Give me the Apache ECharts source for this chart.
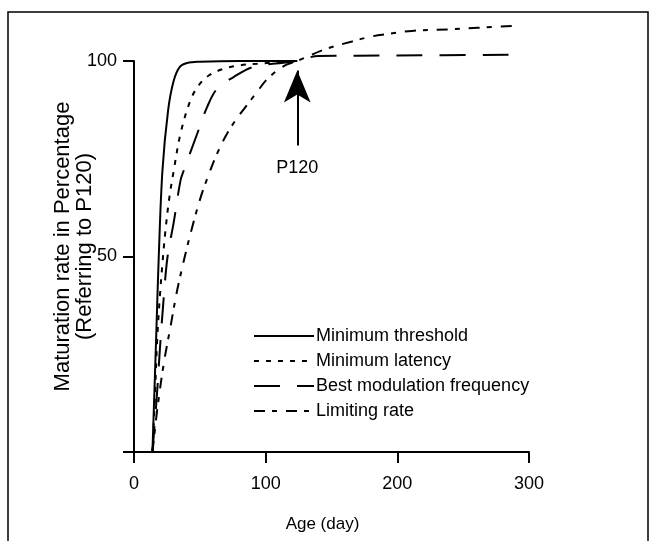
<!DOCTYPE html>
<html>
<head>
<meta charset="utf-8">
<script src="https://cdn.jsdelivr.net/npm/echarts@6/dist/echarts.min.js"></script>
<style>
html,body{margin:0;padding:0;background:#fff;}
#chart{width:656px;height:541px;}
</style>
</head>
<body>
<div id="chart"></div>
<script>
// ---- data ----
var seriesNames = ['Minimum threshold', 'Minimum latency', 'Best modulation frequency', 'Limiting rate'];

var thresholdX = [14, 17, 18.8, 21.6, 25.9, 30.2, 34.8, 40.4, 50, 80, 124];
var thresholdY = [0, 31, 50, 72, 87.4, 95, 98.5, 99.5, 99.8, 100, 100];

var latencyX = [14, 16, 17.5, 19.6, 21.6, 23.9, 26.9, 30.2, 35.3, 42.9, 49.2, 56.8, 68.1, 80.8, 93.5, 124];
var latencyY = [0, 15, 28, 39.6, 48.2, 56.7, 65.2, 72, 81.4, 90, 93.8, 96.3, 98, 98.9, 99.3, 100];

var bmfX = [14, 17.5, 19.6, 22.6, 25.5, 30.2, 35.3, 37.8, 48, 55.5, 63.1, 75.7, 90.9, 124, 140, 200, 290];
var bmfY = [0, 15, 26, 39.6, 50, 58.8, 69.4, 72, 81.4, 88.2, 92.9, 95.9, 98.5, 100, 101.3, 101.4, 101.6];

var limitX = [14, 15, 17.6, 22.6, 27.7, 32.8, 39.1, 44.2, 50.5, 56.8, 63.1, 70, 77, 84.6, 93.5, 101, 113.7, 124, 145, 165.6, 180.7, 195, 211, 240, 261, 290];
var limitY = [0, 3, 10.7, 22.6, 32, 41.4, 50.7, 57.5, 65, 71, 76.3, 81, 84.8, 88.2, 92.1, 95.3, 98.7, 100, 103, 105, 106.3, 107, 107.7, 108.1, 108.5, 109];

var xTicks = [0, 100, 200, 300];
var yTicks = [0, 50, 100];

var arrowX = 124, arrowFromY = 78.4, arrowToY = 97.6, arrowLabel = 'P120';

function pairs(xs, ys) { return xs.map(function (x, i) { return [x, ys[i]]; }); }

var FONT = '"Liberation Sans", Arial, Helvetica, sans-serif';

var chart = echarts.init(document.getElementById('chart'), null, {renderer: 'canvas'});

function lineSeries(name, xs, ys, dash, extra) {
  var s = {
    name: name,
    type: 'line',
    data: pairs(xs, ys),
    showSymbol: false,
    symbol: 'none',
    smooth: 0.35,
    clip: false,
    lineStyle: {color: '#000', width: 2, type: dash, cap: 'butt'},
    itemStyle: {color: '#000'},
    animation: false,
    z: 3
  };
  if (extra) { for (var k in extra) s[k] = extra[k]; }
  return s;
}

var option = {
  animation: false,
  backgroundColor: '#fff',
  textStyle: {fontFamily: FONT},
  graphic: [{
    type: 'rect',
    shape: {x: 8, y: 12, width: 640, height: 560},
    style: {fill: 'none', stroke: '#000', lineWidth: 1.5},
    silent: true
  }],
  grid: {left: 134, right: 127, top: 61, bottom: 89, containLabel: false},
  legend: {
    orient: 'vertical',
    left: 253,
    top: 326,
    padding: 0,
    itemWidth: 60,
    itemHeight: 14,
    itemGap: 5,
    data: seriesNames,
    itemStyle: {color: 'rgba(0,0,0,0)', borderColor: 'rgba(0,0,0,0)', borderWidth: 0, opacity: 0},
    textStyle: {fontSize: 18, color: '#000', fontFamily: FONT, lineHeight: 20, padding: [0, 0, 0, -3]},
    inactiveColor: '#000'
  },
  xAxis: {
    type: 'value',
    min: xTicks[0],
    max: xTicks[xTicks.length - 1],
    interval: 100,
    name: 'Age (day)',
    nameLocation: 'middle',
    nameGap: 64,
    nameMoveOverlap: false,
    nameTextStyle: {fontSize: 17, color: '#000', fontFamily: FONT, padding: [0, 18, 0, 0]},
    axisLine: {show: true, onZero: false, lineStyle: {color: '#000', width: 2}},
    axisTick: {show: true, length: 11, lineStyle: {color: '#000', width: 2}},
    axisLabel: {fontSize: 18, color: '#000', margin: 23, fontFamily: FONT},
    splitLine: {show: false}
  },
  yAxis: {
    type: 'value',
    min: yTicks[0],
    max: yTicks[yTicks.length - 1],
    interval: 50,
    name: 'Maturation rate in Percentage\n(Referring to P120)',
    nameLocation: 'middle',
    nameRotate: 90,
    nameGap: 38,
    nameMoveOverlap: false,
    nameTextStyle: {fontSize: 22, color: '#000', fontFamily: FONT, lineHeight: 22, align: 'center', padding: [0, 0, 0, 20]},
    axisLine: {show: true, onZero: false, lineStyle: {color: '#000', width: 2}},
    axisTick: {show: true, length: 11, lineStyle: {color: '#000', width: 2}},
    axisLabel: {
      fontSize: 18, color: '#000', margin: 17, fontFamily: FONT,
      formatter: function (v) { return v === 0 ? '' : String(v); }
    },
    splitLine: {show: false}
  },
  series: [
    lineSeries(seriesNames[0], thresholdX, thresholdY, 'solid', {
      markLine: {
        silent: true,
        animation: false,
        symbol: ['none', 'arrow'],
        symbolSize: [20, 32],
        lineStyle: {color: '#000', width: 2, type: 'solid'},
        label: {show: true, position: 'start', formatter: arrowLabel, color: '#000', fontSize: 18, fontFamily: FONT, distance: 14},
        data: [[{coord: [arrowX, arrowFromY]}, {coord: [arrowX, arrowToY]}]]
      }
    }),
    lineSeries(seriesNames[1], latencyX, latencyY, [5, 7]),
    lineSeries(seriesNames[2], bmfX, bmfY, [26, 17]),
    lineSeries(seriesNames[3], limitX, limitY, [11, 7, 5, 9])
  ]
};
chart.setOption(option);
</script>
</body>
</html>
